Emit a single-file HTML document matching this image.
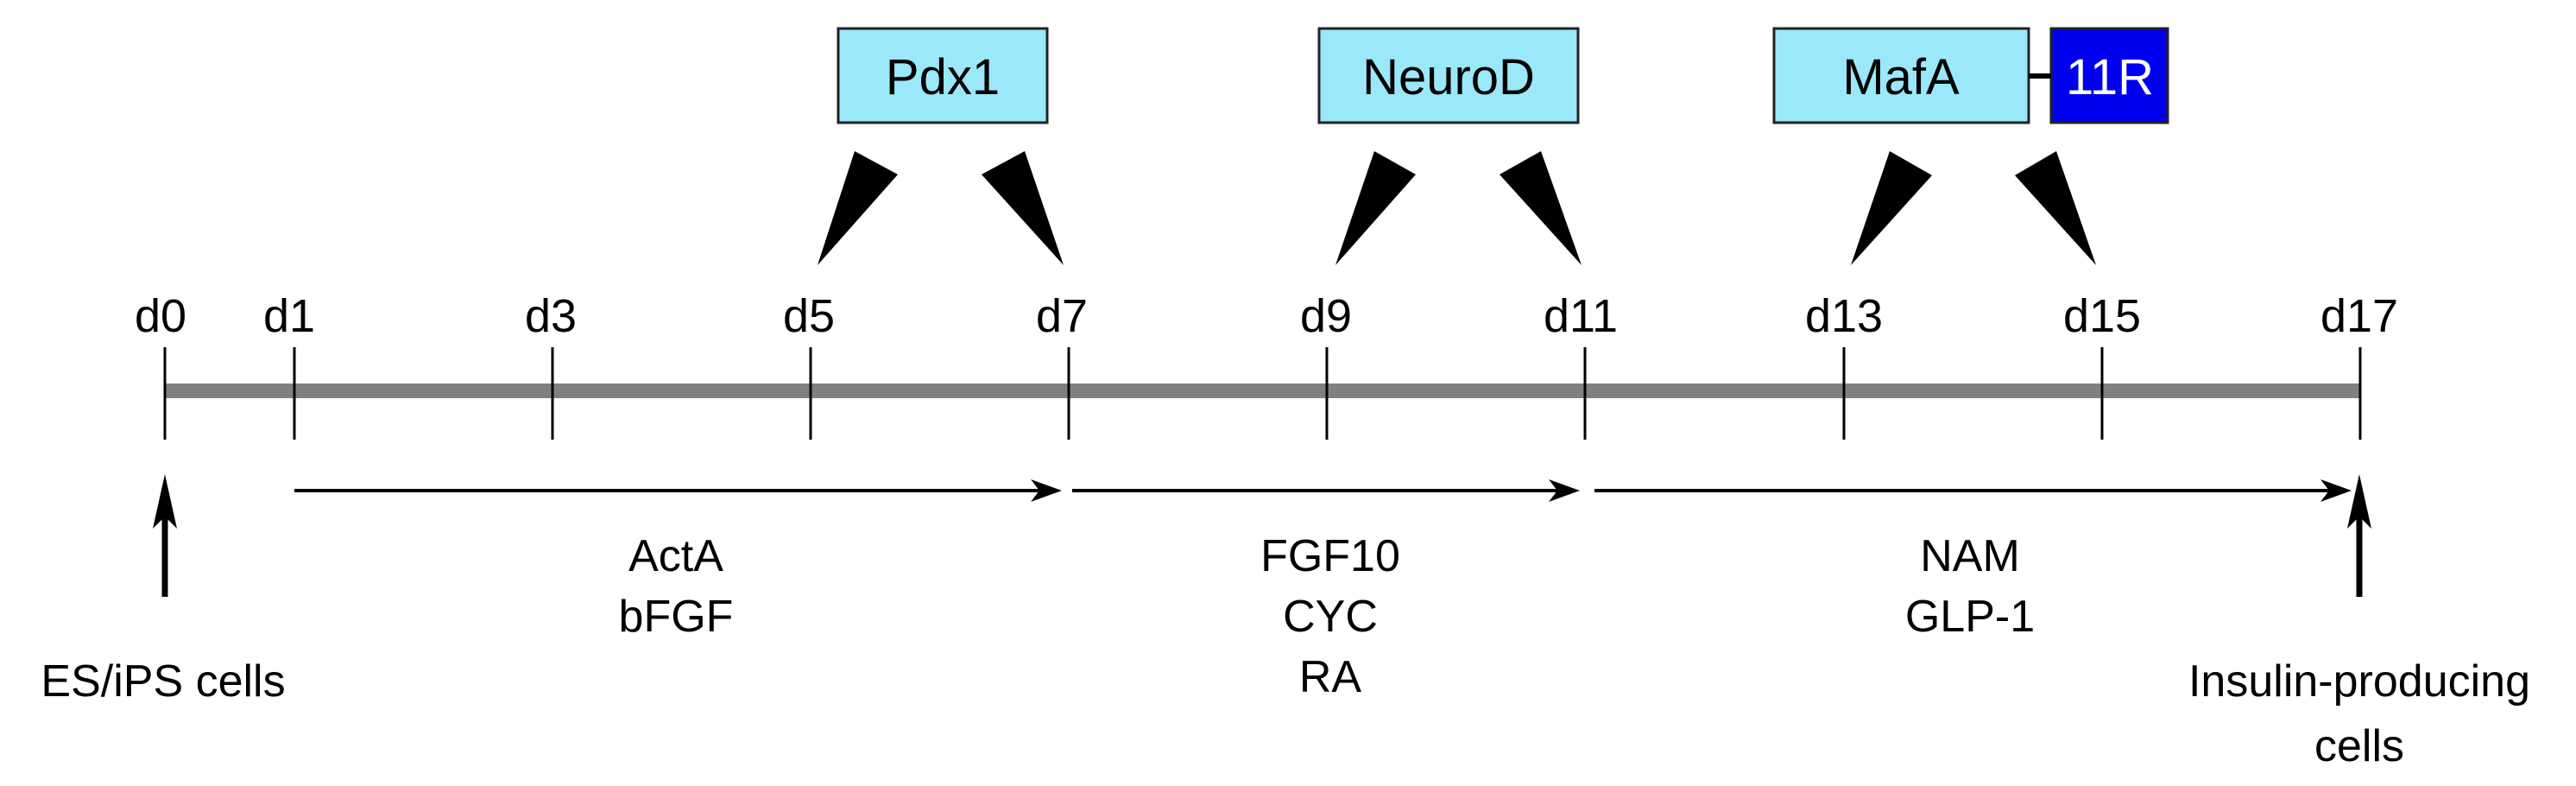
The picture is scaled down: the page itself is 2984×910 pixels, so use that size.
<!DOCTYPE html>
<html><head><meta charset="utf-8"><style>
html,body{margin:0;padding:0;background:#fff;}
svg{display:block;}
text{font-family:"Liberation Sans",sans-serif;fill:#000;}
</style></head><body>
<svg width="2984" height="910" viewBox="0 0 2984 910" xmlns="http://www.w3.org/2000/svg">
<defs>
<marker id="ah" markerWidth="12" markerHeight="10" refX="11" refY="5" orient="auto" markerUnits="userSpaceOnUse" viewBox="0 0 12 10">
</marker>
</defs>
<!-- boxes -->
<g stroke="#222" stroke-width="3">
<rect x="971" y="33" width="242" height="109" fill="#9ae8fa"/>
<rect x="1528" y="33" width="300" height="109" fill="#9ae8fa"/>
<rect x="2055" y="33" width="295" height="109" fill="#9ae8fa"/>
<rect x="2376" y="33" width="135" height="109" fill="#0000f0"/>
</g>
<line x1="2350" y1="88" x2="2376" y2="88" stroke="#000" stroke-width="6"/>
<g font-size="58" text-anchor="middle">
<text x="1092" y="109">Pdx1</text>
<text x="1678" y="109">NeuroD</text>
<text x="2202" y="109">MafA</text>
<text x="2444" y="109" style="fill:#fff">11R</text>
</g>
<!-- wedges -->
<g fill="#000">
<polygon points="947,307 990,175 1040,202"/>
<polygon points="1232,307 1187,175 1137,202"/>
<polygon points="1547,307 1592,175 1640,202"/>
<polygon points="1832,307 1785,175 1737,202"/>
<polygon points="2144,307 2189,175 2238,203"/>
<polygon points="2428,307 2382,175 2334,203"/>
</g>
<!-- timeline -->
<rect x="191" y="444" width="2543" height="17" fill="#808080"/>
<g stroke="#000" stroke-width="3">
<line x1="191" y1="402" x2="191" y2="509"/>
<line x1="341" y1="402" x2="341" y2="509"/>
<line x1="640" y1="402" x2="640" y2="509"/>
<line x1="939" y1="402" x2="939" y2="509"/>
<line x1="1238" y1="402" x2="1238" y2="509"/>
<line x1="1537" y1="402" x2="1537" y2="509"/>
<line x1="1836" y1="402" x2="1836" y2="509"/>
<line x1="2136" y1="402" x2="2136" y2="509"/>
<line x1="2435" y1="402" x2="2435" y2="509"/>
<line x1="2734" y1="402" x2="2734" y2="509"/>
</g>
<g font-size="54" text-anchor="middle">
<text x="186" y="384">d0</text>
<text x="335" y="384">d1</text>
<text x="638" y="384">d3</text>
<text x="937" y="384">d5</text>
<text x="1230" y="384">d7</text>
<text x="1536" y="384">d9</text>
<text x="1831" y="384">d11</text>
<text x="2136" y="384">d13</text>
<text x="2435" y="384">d15</text>
<text x="2733" y="384">d17</text>
</g>
<!-- horizontal arrows -->
<g stroke="#000" stroke-width="4" fill="none">
<line x1="341" y1="568" x2="1222" y2="568"/>
<line x1="1242" y1="568" x2="1822" y2="568"/>
<line x1="1847" y1="568" x2="2716" y2="568"/>
</g>
<g fill="#000">
<polygon points="1230,568 1194,555 1204,568 1194,581"/>
<polygon points="1830,568 1794,555 1804,568 1794,581"/>
<polygon points="2724,568 2688,555 2698,568 2688,581"/>
</g>
<!-- vertical arrows -->
<g stroke="#000" stroke-width="7">
<line x1="191" y1="691" x2="191" y2="570"/>
<line x1="2733" y1="691" x2="2733" y2="570"/>
</g>
<g fill="#000">
<polygon points="191,549 177,612 191,598 205,612"/>
<polygon points="2733,549 2719,612 2733,598 2747,612"/>
</g>
<g font-size="52" text-anchor="middle">
<text x="783" y="661">ActA</text>
<text x="783" y="731">bFGF</text>
<text x="1541" y="661">FGF10</text>
<text x="1541" y="731">CYC</text>
<text x="1541" y="801">RA</text>
<text x="2282" y="661">NAM</text>
<text x="2282" y="731">GLP-1</text>
<text x="189" y="806">ES/iPS cells</text>
<text x="2733" y="806">Insulin-producing</text>
<text x="2733" y="881">cells</text>
</g>
</svg>
</body></html>
